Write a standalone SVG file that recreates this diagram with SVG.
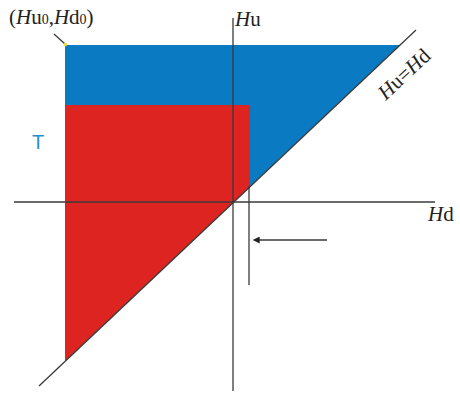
<svg xmlns="http://www.w3.org/2000/svg" width="460" height="394" viewBox="0 0 460 394">
<defs>
<style>
.ln{stroke:#3a3a3a;stroke-width:1.3;fill:none}
.lbl{font-family:"Liberation Serif",serif;font-size:21px;fill:#222}
</style>
<marker id="ah" viewBox="0 0 10 10" refX="1" refY="5" markerWidth="8" markerHeight="7" orient="auto-start-reverse" markerUnits="userSpaceOnUse">
<path d="M0,0 L10,5 L0,10 z" fill="#222"/>
</marker>
</defs>
<rect width="460" height="394" fill="#fff"/>
<g id="regions">
<polygon id="blue" points="65,45 400,45 65,361" fill="#0a7bc2"/>
<polygon id="red" points="65,105 250,105 250,186.5 65,361" fill="#dd2420"/>
</g>
<g id="connectors">
<line class="ln" x1="233" y1="18" x2="233" y2="391"/>
<line class="ln" x1="14" y1="202" x2="435" y2="202"/>
<line class="ln" x1="39" y1="386" x2="416" y2="30"/>
<line class="ln" x1="249" y1="186" x2="249" y2="285"/>
<line class="ln" x1="54" y1="34" x2="65" y2="44"/>
<line class="ln" x1="327" y1="240" x2="259" y2="240" marker-end="url(#ah)"/>
<circle cx="65.5" cy="44.5" r="1.8" fill="#f0e040"/>
</g>
<g id="labels">
<text class="lbl" x="235" y="26"><tspan font-style="italic">H</tspan>u</text>
<text class="lbl" x="428" y="221"><tspan font-style="italic">H</tspan>d</text>
<text class="lbl" x="9" y="24"><tspan>(</tspan><tspan font-style="italic">H</tspan>u<tspan font-size="14">0</tspan>,<tspan font-style="italic">H</tspan>d<tspan font-size="14">0</tspan>)</text>
<text x="38" y="149" text-anchor="middle" font-family="Liberation Sans, sans-serif" font-size="20" fill="#2a8fd0">T</text>
<text class="lbl" transform="translate(404,74) rotate(-43)" text-anchor="middle" dy="7"><tspan font-style="italic">H</tspan>u=<tspan font-style="italic">H</tspan>d</text>
</g>
</svg>
